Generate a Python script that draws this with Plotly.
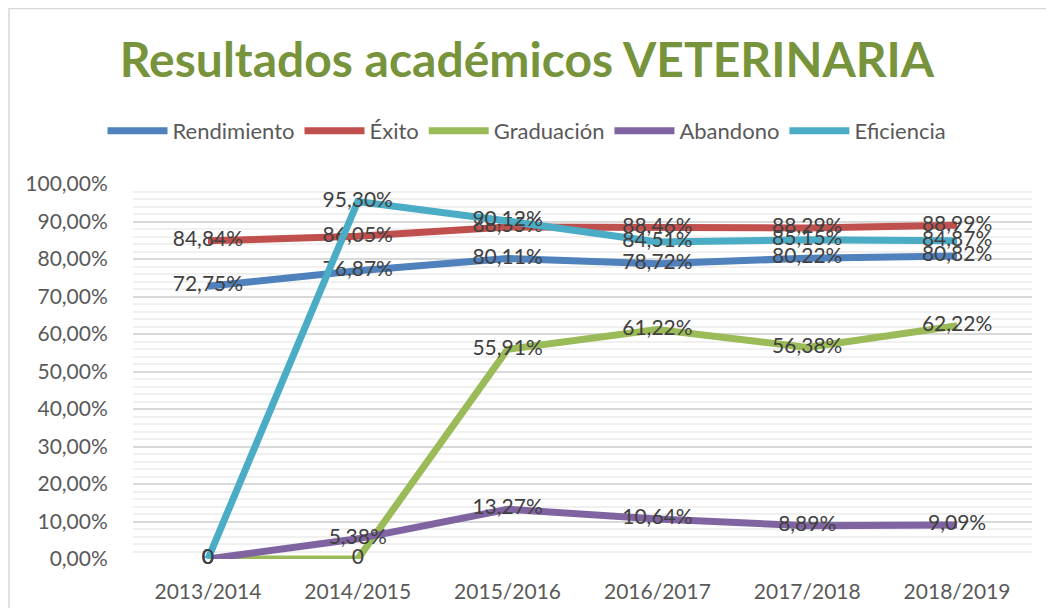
import plotly.graph_objects as go

categories = ["2013/2014", "2014/2015", "2015/2016", "2016/2017", "2017/2018", "2018/2019"]
rendimiento = [72.75, 76.87, 80.11, 78.72, 80.22, 80.82]
exito = [84.84, 86.05, 88.55, 88.46, 88.29, 88.99]
graduacion = [0, 0, 55.91, 61.22, 56.38, 62.22]
abandono = [0, 5.38, 13.27, 10.64, 8.89, 9.09]
eficiencia = [0, 95.30, 90.12, 84.51, 85.15, 84.87]
y_ticks = [0, 10, 20, 30, 40, 50, 60, 70, 80, 90, 100]

series = [
    ("Rendimiento", rendimiento, "#4F81BD"),
    ("Éxito", exito, "#C0504D"),
    ("Graduación", graduacion, "#9BBB59"),
    ("Abandono", abandono, "#8064A2"),
    ("Eficiencia", eficiencia, "#4BACC6"),
]

def fmt(v):
    if v == 0:
        return "0"
    return f"{v:.2f}".replace(".", ",") + "%"

FONT = "Lato"
OFF = 8  # page body margin
W, H = 1054 - 2 * OFF, 616 - 2 * OFF
ML, MT = 133 - OFF, 184 - OFF
MR = (W + OFF) - 1032
MB = (H + OFF) - 559

fig = go.Figure()
for name, vals, color in series:
    fig.add_trace(go.Scatter(
        x=categories, y=[v / 100 for v in vals], name=name, mode="lines+text",
        line=dict(color=color, width=7),
        text=[fmt(v) for v in vals], textposition="middle center",
        textfont=dict(family=FONT, size=21, color="#404040"),
        cliponaxis=False,
    ))

pw = W - ML - MR
ph = H - MT - MB
fig.add_shape(type="rect", xref="paper", yref="paper",
              x0=(1 - ML) / pw, x1=(W + 5 - ML) / pw,
              y0=-(MB + 5) / ph, y1=(ph + MT - 0.5) / ph,
              line=dict(color="#D9D9D9", width=1.5), fillcolor="rgba(0,0,0,0)", layer="below")

fig.update_layout(
    width=W, height=H, separators=",.",
    margin=dict(l=ML, r=MR, t=MT, b=MB, autoexpand=False),
    paper_bgcolor="white", plot_bgcolor="white",
    title=dict(text="<b>Resultados académicos VETERINARIA</b>", x=0.5, xanchor="center",
               y=1 - (60 - OFF) / H, yanchor="middle", automargin=False,
               font=dict(family=FONT, size=48, color="#77933C")),
    legend=dict(orientation="h", x=0.5, xanchor="center", xref="container",
                y=1 - (131 - OFF) / H, yanchor="middle", yref="container",
                font=dict(family=FONT, size=22, color="#595959"),
                itemwidth=60, tracegroupgap=0),
    xaxis=dict(type="category", range=[-0.5, len(categories) - 0.5], showgrid=False, automargin=False,
               showline=False, zeroline=False, ticks="outside", ticklen=14, tickcolor="rgba(0,0,0,0)",
               tickfont=dict(family=FONT, size=21, color="#595959")),
    yaxis=dict(range=[0, 1], tickvals=[t / 100 for t in y_ticks], tickformat=".2%", automargin=False,
               showgrid=True, gridcolor="#D9D9D9", gridwidth=1.5, zeroline=False, showline=False,
               ticks="outside", ticklen=20, tickcolor="rgba(0,0,0,0)",
               tickfont=dict(family=FONT, size=21, color="#595959"),
               minor=dict(dtick=0.02, showgrid=True, gridcolor="#F0F0F0", gridwidth=1.5)),
)

fig.write_html("out.html")
